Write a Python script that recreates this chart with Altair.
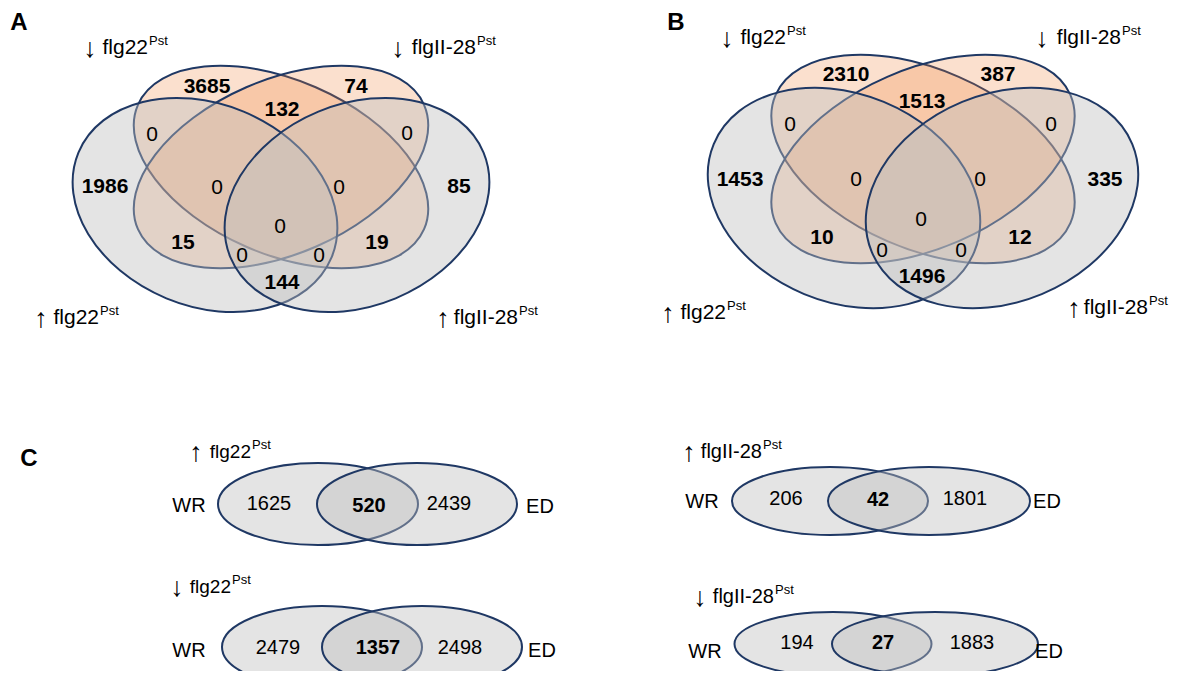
import altair as alt
import pandas as pd

FONT = "Liberation Sans, DejaVu Sans, Arial, Helvetica, sans-serif"
NAVY = "#1f3864"
PEACH = "#ed7d31"
GREY = "#bfbfbf"

# ---------------- data ----------------
SETS = ["flg22", "flgII-28", "flg22", "flgII-28"]
DIRECTIONS = ["↓", "↓", "↑", "↑"]
SUPERSCRIPT = "Pst"
REGIONS = [
    "↓flg22", "↓flgII-28", "↓flg22∩↓flgII-28", "↑flg22∩↓flg22", "↓flgII-28∩↑flgII-28",
    "↑flg22", "↑flgII-28", "↑flg22∩↓flg22∩↓flgII-28", "↓flg22∩↓flgII-28∩↑flgII-28", "all four",
    "↑flg22∩↓flgII-28", "↓flg22∩↑flgII-28", "↑flg22∩↓flgII-28∩↑flgII-28",
    "↑flg22∩↓flg22∩↑flgII-28", "↑flg22∩↑flgII-28",
]
COUNTS_A = [3685, 74, 132, 0, 0, 1986, 85, 0, 0, 0, 15, 19, 0, 0, 144]
COUNTS_B = [2310, 387, 1513, 0, 0, 1453, 335, 0, 0, 0, 10, 12, 0, 0, 1496]

PAIR_TITLES = ["flg22", "flg22", "flgII-28", "flgII-28"]
PAIR_DIRECTIONS = ["↑", "↓", "↑", "↓"]
PAIR_SETS = ["WR", "ED"]
WR_ONLY = [1625, 2479, 206, 194]
SHARED = [520, 1357, 42, 27]
ED_ONLY = [2439, 2498, 1801, 1883]
PANELS = ["A", "B", "C"]

# ---------------- layout (page pixels) ----------------
VENN4 = {
    "A": dict(
        counts=COUNTS_A,
        region_xy=[(207, 87), (356, 87), (282, 110), (152, 135), (407, 134),
                   (105, 187), (459, 187), (217, 188), (339, 188), (280, 227),
                   (183, 243), (377, 243), (242, 256), (319, 256), (282, 283)],
        label_xy=[(148, 48), (476, 48), (99, 318), (518, 318)],
        arrow_x=[90, 398, 41, 443],
        ell_xy=[(281, 167), (281, 167), (205, 205), (357, 205)],
        ell_ab=[(156, 87), (156, 87), (137, 101), (137, 101)],
        ell_angle=[23.5, 336.5, 22.5, 337.5],
    ),
    "B": dict(
        counts=COUNTS_B,
        region_xy=[(846, 75), (998, 75), (922, 102), (790, 125), (1051, 125),
                   (740, 180), (1105, 180), (856, 180), (980, 180), (921, 220),
                   (822, 238), (1020, 238), (882, 251), (961, 251), (922, 277)],
        label_xy=[(786, 38), (1121, 38), (726, 313), (1148, 308)],
        arrow_x=[727, 1042, 668, 1074],
        ell_xy=[(923, 159), (923, 159), (844, 198), (1002, 198)],
        ell_ab=[(160.7, 89.6), (160.7, 89.6), (141, 104), (141, 104)],
        ell_angle=[23.5, 336.5, 22.5, 337.5],
    ),
}
PAIR = dict(
    wr_xy=[(318, 504), (322, 647), (830, 501), (833, 644)],
    ed_xy=[(417, 504), (422, 647), (929, 501), (935, 644)],
    wr_ab=[(100, 41), (100, 41), (98, 34), (98.5, 32)],
    ed_ab=[(100, 41), (100, 41), (101, 34), (103, 32)],
    wr_num=[(269, 504), (278, 648), (786, 499), (797, 643)],
    sh_num=[(369, 506), (378, 648), (878, 500), (883, 643)],
    ed_num=[(449, 504), (460, 648), (965, 499), (972, 643)],
    wr_lab=[(189, 506), (189, 651), (702, 502), (705, 652)],
    ed_lab=[(540, 507), (542, 651), (1047, 502), (1049, 652)],
    title_xy=[(251, 452), (231, 587), (762, 452), (774, 597)],
    title_fs=[19, 19, 20, 20],
    arrow_x=[196, 177, 689, 700],
)
LETTER_XY = [(19, 30), (676, 29.7), (29, 466)]   # alphabetic baselines
SET_FILL = [PEACH, PEACH, GREY, GREY]
SET_FOP = [0.24, 0.24, 0.42, 0.42]


def ellipse_path(a, b):
    r = b / a
    return (f"M 1 0 A 1 {r:.4f} 0 0 1 0 {r:.4f} A 1 {r:.4f} 0 0 1 -1 0 "
            f"A 1 {r:.4f} 0 0 1 0 {-r:.4f} A 1 {r:.4f} 0 0 1 1 0 Z")


ell_rows, bold_rows, reg_rows, lab_rows, sup_rows, set_rows, arrow_rows = [], [], [], [], [], [], []
for panel in ["A", "B"]:
    L = VENN4[panel]
    for k in range(4):
        (cx, cy), (a, b) = L["ell_xy"][k], L["ell_ab"][k]
        ell_rows.append(dict(x=cx, y=cy, shape=ellipse_path(a, b), size=(2 * a) ** 2,
                             angle=L["ell_angle"][k], fill=SET_FILL[k], fop=SET_FOP[k]))
        lx, ly = L["label_xy"][k]
        lab_rows.append(dict(x=lx, y=ly, t=SETS[k], fs=21))
        sup_rows.append(dict(x=lx + 1, y=ly - 7, t=SUPERSCRIPT, fs=13))
        arrow_rows.append(dict(x=L["arrow_x"][k], y=ly + 1, t=DIRECTIONS[k]))
    for name, v, (x, y) in zip(REGIONS, L["counts"], L["region_xy"]):
        (bold_rows if v > 0 else reg_rows).append(dict(x=x, y=y, t=str(v), fs=21, region=name))

for i in range(4):
    for (cx, cy), (a, b) in [(PAIR["wr_xy"][i], PAIR["wr_ab"][i]), (PAIR["ed_xy"][i], PAIR["ed_ab"][i])]:
        ell_rows.append(dict(x=cx, y=cy, shape=ellipse_path(a, b), size=(2 * a) ** 2,
                             angle=0, fill=GREY, fop=0.42))
    reg_rows.append(dict(x=PAIR["wr_num"][i][0], y=PAIR["wr_num"][i][1], t=str(WR_ONLY[i]), fs=20, region="WR"))
    reg_rows.append(dict(x=PAIR["ed_num"][i][0], y=PAIR["ed_num"][i][1], t=str(ED_ONLY[i]), fs=20, region="ED"))
    bold_rows.append(dict(x=PAIR["sh_num"][i][0], y=PAIR["sh_num"][i][1], t=str(SHARED[i]), fs=20, region="WR∩ED"))
    set_rows.append(dict(x=PAIR["wr_lab"][i][0], y=PAIR["wr_lab"][i][1], t=PAIR_SETS[0]))
    set_rows.append(dict(x=PAIR["ed_lab"][i][0], y=PAIR["ed_lab"][i][1], t=PAIR_SETS[1]))
    tx, ty = PAIR["title_xy"][i]
    lab_rows.append(dict(x=tx, y=ty, t=PAIR_TITLES[i], fs=PAIR["title_fs"][i]))
    sup_rows.append(dict(x=tx + 1, y=ty - 7, t=SUPERSCRIPT, fs=13))
    arrow_rows.append(dict(x=PAIR["arrow_x"][i], y=ty + 1, t=PAIR_DIRECTIONS[i]))

letter_rows = [dict(x=x, y=y, t=t) for t, (x, y) in zip(PANELS, LETTER_XY)]

X = alt.X("x:Q", scale=alt.Scale(domain=[8, 1170], nice=False, zero=False), axis=None)
Y = alt.Y("y:Q", scale=alt.Scale(domain=[8, 671], nice=False, zero=False, reverse=True), axis=None)

ellipses = alt.Chart(pd.DataFrame(ell_rows)).mark_point(
    filled=True, opacity=1, stroke=NAVY, strokeWidth=2, strokeOpacity=1
).encode(
    x=X, y=Y,
    shape=alt.Shape("shape:N", scale=None),
    size=alt.Size("size:Q", scale=None),
    angle=alt.Angle("angle:Q", scale=None),
    fill=alt.Fill("fill:N", scale=None),
    fillOpacity=alt.FillOpacity("fop:Q", scale=None),
)


def txt(rows, baseline="middle", font=FONT, **kw):
    enc = dict(x=X, y=Y, text="t:N")
    if "fs" in rows[0]:
        enc["size"] = alt.Size("fs:Q", scale=None)
    return alt.Chart(pd.DataFrame(rows)).mark_text(
        font=font, color="#000000", baseline=baseline, **kw).encode(**enc)


layers = [
    ellipses,
    txt(bold_rows, fontWeight="bold", align="center"),
    txt(reg_rows, fontWeight="normal", align="center"),
    txt(lab_rows, fontWeight="normal", align="right"),
    txt(sup_rows, fontWeight="normal", align="left"),
    txt(arrow_rows, fontWeight="normal", align="center", fontSize=27),
    txt(set_rows, fontWeight="normal", align="center", fontSize=20),
    txt(letter_rows, baseline="alphabetic", fontWeight="bold", align="center", fontSize=24),
]

chart = alt.layer(*layers).properties(
    width=1162, height=663, padding=0,
    autosize=alt.AutoSizeParams(type="none"),
    background="white",
).configure_view(stroke=None)

chart.save("out.html", embed_options={"renderer": "svg", "actions": False})
